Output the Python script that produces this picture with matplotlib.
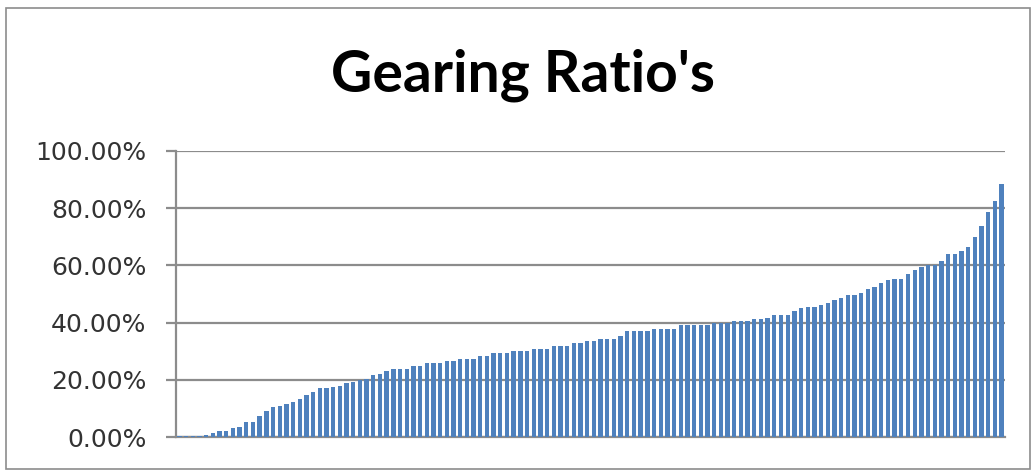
import numpy as np
import matplotlib.pyplot as plt
from matplotlib.ticker import MultipleLocator, FuncFormatter
from matplotlib.patches import Rectangle

# gearing ratio per company, sorted low to high (percent)
low_end = [0.2, 0.2, 0.2, 0.3, 0.6, 1.5, 2.0, 2.2, 3.3, 3.5, 5.3, 5.3, 7.2, 9.0, 10.5, 10.8,
           11.4, 12.2, 13.4, 14.6, 15.8, 17.0, 17.0, 17.5, 18.0, 19.0, 19.3, 20.0, 20.3, 21.8, 22.0]
lower_mid = [23.1, 23.9, 23.9, 23.9, 24.7, 24.7, 25.7, 25.7, 25.7, 26.6, 26.6, 27.4, 27.4, 27.4, 28.2,
             28.2, 29.2, 29.4, 29.4, 30.1, 30.1, 30.1, 30.9, 30.9, 30.9, 31.7, 31.7, 31.7, 32.7]
upper_mid = [32.7, 33.6, 33.6, 34.4, 34.4, 34.4, 35.2, 37.0, 37.0, 37.0, 37.0, 37.9, 37.9, 37.9,
             37.9, 39.3, 39.3, 39.3, 39.3, 39.3, 39.7, 39.7, 39.7, 40.5, 40.5, 40.5, 41.4, 41.4]
high_end = [41.7, 42.7, 42.7, 42.7, 44.2, 45.0, 45.4, 45.4, 46.2, 47.0, 47.9, 48.5, 49.7, 49.7,
            50.5, 51.7, 52.4, 53.8]
top_tail = [54.8, 55.2, 55.2, 57.0, 58.3, 59.6, 60.2, 60.2, 61.4, 64.0, 64.0, 64.9, 66.5, 70.0,
            73.6, 78.8, 82.5, 88.5]

ratios = np.array(low_end + lower_mid + upper_mid + high_end + top_tail)
idx = np.arange(len(ratios))

fig = plt.figure(figsize=(10.36, 4.73), dpi=100)
ax = fig.add_axes([0.170, 0.0761, 0.800, 0.6047])

ax.bar(idx, ratios, width=0.65, color='#4F81BD', zorder=3)

ax.set_xlim(-0.5, len(ratios) - 0.5)
ax.set_ylim(0, 100)
ax.yaxis.set_major_locator(MultipleLocator(20))
ax.yaxis.set_major_formatter(FuncFormatter(lambda v, p: f"{v:.2f}%"))
ax.set_xticks([])

ax.grid(axis='y', color='#8c8c8c', linewidth=1.6, zorder=0)
for s in ['top', 'right']:
    ax.spines[s].set_visible(False)
ax.spines['left'].set_color('#8c8c8c')
ax.spines['left'].set_linewidth(1.6)
ax.spines['bottom'].set_color('#8c8c8c')
ax.spines['bottom'].set_linewidth(1.6)
ax.tick_params(axis='y', length=7.5, width=1.6, color='#8c8c8c', pad=14,
               labelsize=18, labelcolor='#333333')
for lab in ax.get_yticklabels():
    lab.set_family('DejaVu Sans')

fig.text(0.505, 0.840, "Gearing Ratio's", ha='center', va='center',
         fontsize=41, fontweight='bold', family='Lato', color='black')

# chart border
fig.patches.append(Rectangle((0.006, 0.008), 0.988, 0.975, transform=fig.transFigure,
                             fill=False, edgecolor='#8c8c8c', linewidth=1.2))

fig.savefig('out.png', dpi=100, facecolor='white')
